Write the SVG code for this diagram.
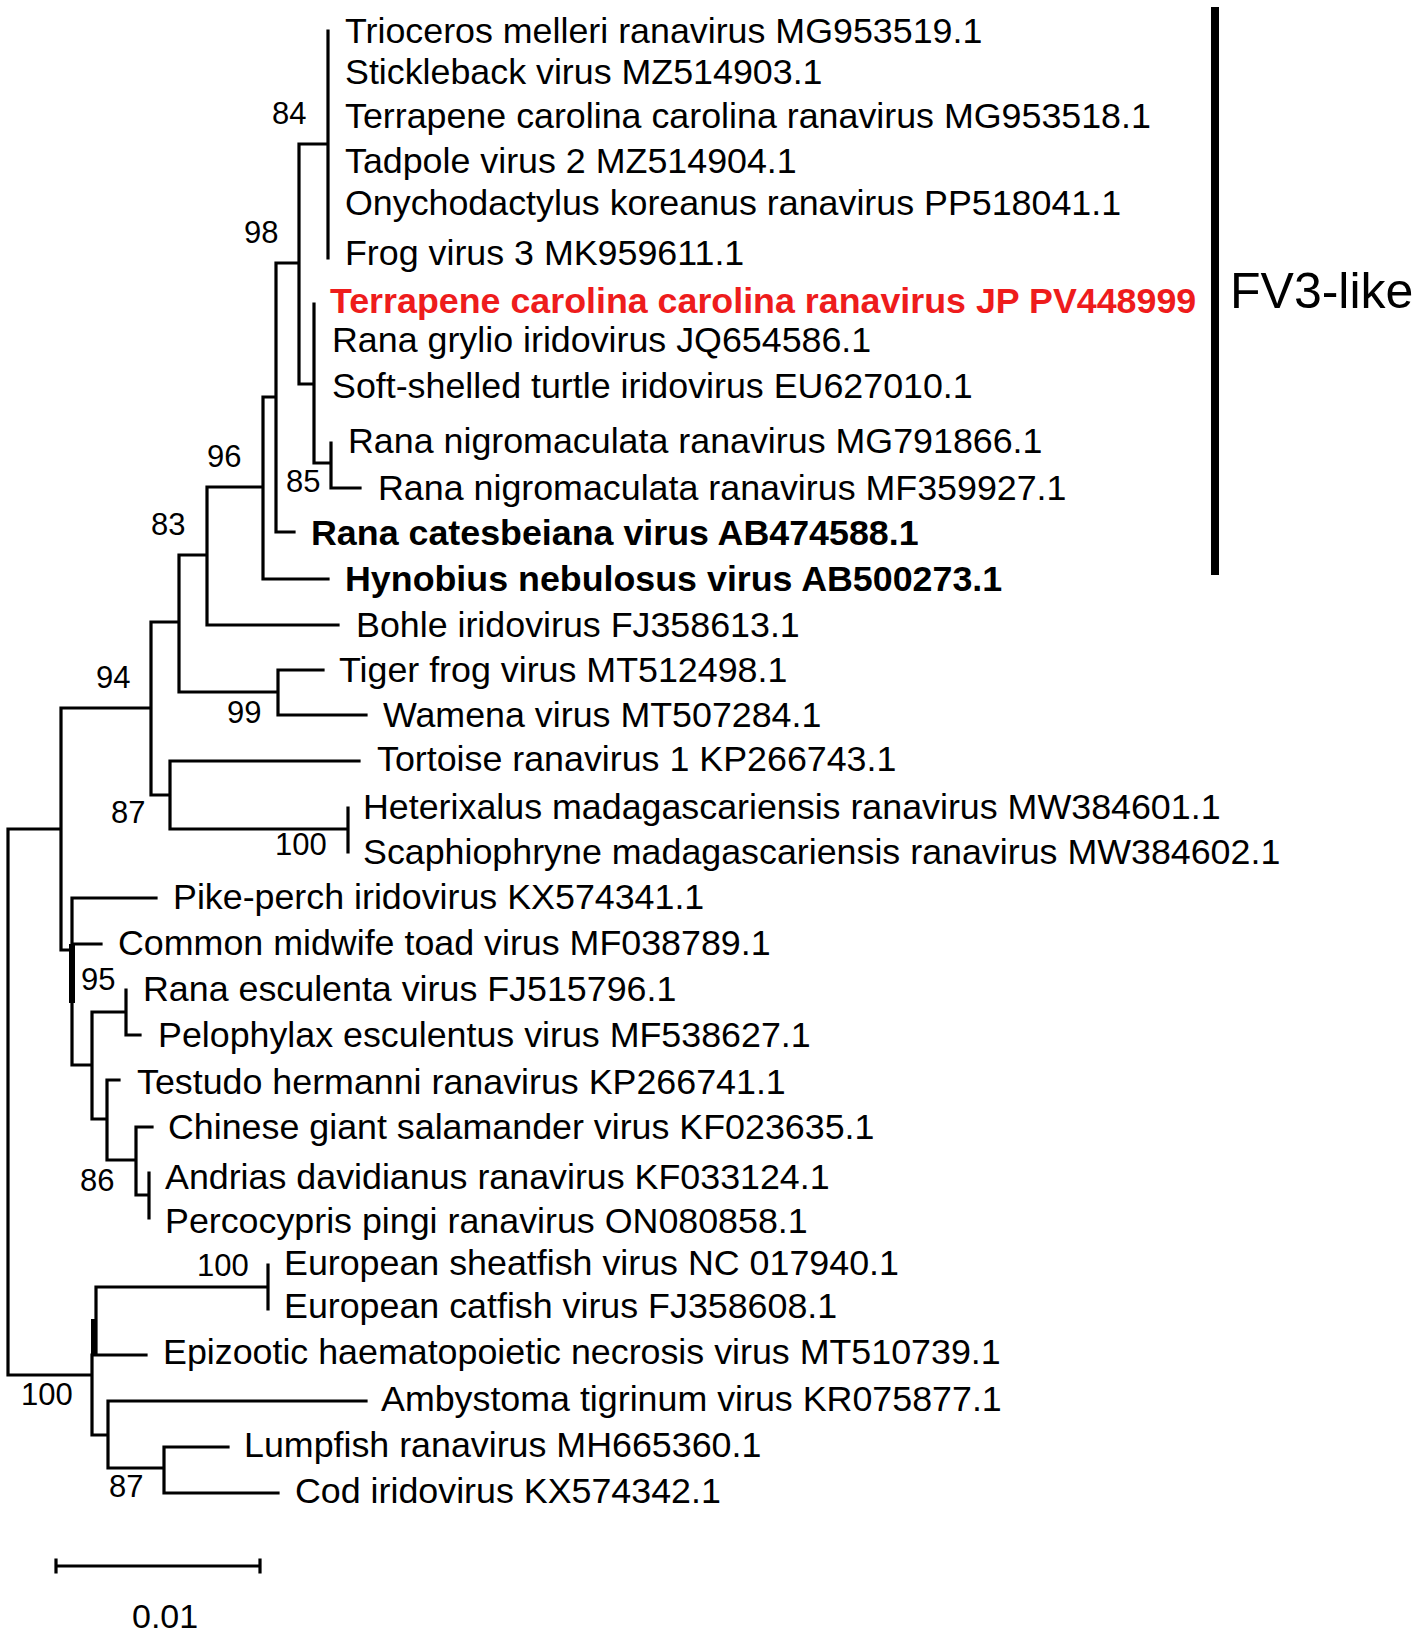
<svg xmlns="http://www.w3.org/2000/svg" width="1418" height="1636" viewBox="0 0 1418 1636">
<style>
.br{stroke:#000;stroke-width:3.2;fill:none;stroke-linecap:square}
.thick{stroke:#000;stroke-width:6;fill:none}
.lf{font-family:"Liberation Sans",Arial,sans-serif;font-size:35.8px;fill:#000}
.bd{font-weight:bold}
.red{fill:#ee1c1c;font-weight:bold}
.bs{font-family:"Liberation Sans",Arial,sans-serif;font-size:31px;fill:#000}
</style>
<rect width="1418" height="1636" fill="#fff"/>
<g id="connectors">
<path class="br" d="M328,31V258 M299,144H328 M299,144V384 M299,384H314 M314,304V463 M314,463H331 M331,443V488 M331,488H360 M276,263H299 M276,263V532 M276,532H294 M263,397H276 M263,397V579 M263,579H328 M207,487H263 M207,487V625 M207,625H338 M179,555H207 M179,555V692 M179,692H278 M278,670V715 M278,670H323 M278,715H366 M151,622H179 M151,622V795 M151,795H170 M170,761V829 M170,761H359 M170,829H348 M348,808V852 M61,708H151 M61,708V950 M61,950H72 M8,829H61 M8,829V1375 M8,1375H92 M72,898V1065 M72,898H156 M72,944H101 M72,1065H92 M92,1012V1119 M92,1012H126 M126,990V1035 M126,1035H140 M92,1119H107 M107,1080V1160 M107,1080H119 M107,1160H136 M136,1127V1195 M136,1127H152 M136,1195H149 M149,1173V1218 M96,1287H268 M268,1265V1309 M96,1287V1355 M92,1355H146 M92,1355V1435 M92,1435H108 M108,1401V1468 M108,1401H366 M108,1468H164 M164,1447V1493 M164,1447H228 M164,1493H278"/>
<path class="thick" d="M72,944V1003 M94,1319V1355"/>
</g>
<g id="bootstrap">
<text class="bs" x="272" y="124">84</text>
<text class="bs" x="244" y="243">98</text>
<text class="bs" x="286" y="492">85</text>
<text class="bs" x="207" y="467">96</text>
<text class="bs" x="151" y="535">83</text>
<text class="bs" x="96" y="688">94</text>
<text class="bs" x="227" y="723">99</text>
<text class="bs" x="111" y="823">87</text>
<text class="bs" x="275" y="855">100</text>
<text class="bs" x="81" y="990">95</text>
<text class="bs" x="80" y="1191">86</text>
<text class="bs" x="197" y="1276">100</text>
<text class="bs" x="21" y="1405">100</text>
<text class="bs" x="109" y="1497">87</text>
</g>
<g id="leaf-trioceros"><text class="lf" x="345" y="43">Trioceros melleri ranavirus MG953519.1</text></g>
<g id="leaf-stickleback"><text class="lf" x="345" y="84">Stickleback virus MZ514903.1</text></g>
<g id="leaf-terrapene-mg"><text class="lf" x="345" y="128">Terrapene carolina carolina ranavirus MG953518.1</text></g>
<g id="leaf-tadpole"><text class="lf" x="345" y="173">Tadpole virus 2 MZ514904.1</text></g>
<g id="leaf-onychodactylus"><text class="lf" x="345" y="215">Onychodactylus koreanus ranavirus PP518041.1</text></g>
<g id="leaf-fv3"><text class="lf" x="345" y="265">Frog virus 3 MK959611.1</text></g>
<g id="leaf-terrapene-jp"><text class="lf red" x="330" y="313">Terrapene carolina carolina ranavirus JP PV448999</text></g>
<g id="leaf-rana-grylio"><text class="lf" x="332" y="352">Rana grylio iridovirus JQ654586.1</text></g>
<g id="leaf-soft-shelled"><text class="lf" x="332" y="398">Soft-shelled turtle iridovirus EU627010.1</text></g>
<g id="leaf-nigro-mg"><text class="lf" x="348" y="453">Rana nigromaculata ranavirus MG791866.1</text></g>
<g id="leaf-nigro-mf"><text class="lf" x="378" y="500">Rana nigromaculata ranavirus MF359927.1</text></g>
<g id="leaf-catesbeiana"><text class="lf bd" x="311" y="545">Rana catesbeiana virus AB474588.1</text></g>
<g id="leaf-hynobius"><text class="lf bd" x="345" y="591">Hynobius nebulosus virus AB500273.1</text></g>
<g id="leaf-bohle"><text class="lf" x="356" y="637">Bohle iridovirus FJ358613.1</text></g>
<g id="leaf-tiger"><text class="lf" x="339" y="682">Tiger frog virus MT512498.1</text></g>
<g id="leaf-wamena"><text class="lf" x="383" y="727">Wamena virus MT507284.1</text></g>
<g id="leaf-tortoise"><text class="lf" x="377" y="771">Tortoise ranavirus 1 KP266743.1</text></g>
<g id="leaf-heterixalus"><text class="lf" x="363" y="819">Heterixalus madagascariensis ranavirus MW384601.1</text></g>
<g id="leaf-scaphiophryne"><text class="lf" x="363" y="864">Scaphiophryne madagascariensis ranavirus MW384602.1</text></g>
<g id="leaf-pike"><text class="lf" x="173" y="909">Pike-perch iridovirus KX574341.1</text></g>
<g id="leaf-midwife"><text class="lf" x="118" y="955">Common midwife toad virus MF038789.1</text></g>
<g id="leaf-esculenta"><text class="lf" x="143" y="1001">Rana esculenta virus FJ515796.1</text></g>
<g id="leaf-pelophylax"><text class="lf" x="158" y="1047">Pelophylax esculentus virus MF538627.1</text></g>
<g id="leaf-testudo"><text class="lf" x="137" y="1094">Testudo hermanni ranavirus KP266741.1</text></g>
<g id="leaf-chinese"><text class="lf" x="168" y="1139">Chinese giant salamander virus KF023635.1</text></g>
<g id="leaf-andrias"><text class="lf" x="165" y="1189">Andrias davidianus ranavirus KF033124.1</text></g>
<g id="leaf-percocypris"><text class="lf" x="165" y="1233">Percocypris pingi ranavirus ON080858.1</text></g>
<g id="leaf-sheatfish"><text class="lf" x="284" y="1275">European sheatfish virus NC 017940.1</text></g>
<g id="leaf-catfish"><text class="lf" x="284" y="1318">European catfish virus FJ358608.1</text></g>
<g id="leaf-ehnv"><text class="lf" x="163" y="1364">Epizootic haematopoietic necrosis virus MT510739.1</text></g>
<g id="leaf-ambystoma"><text class="lf" x="381" y="1411">Ambystoma tigrinum virus KR075877.1</text></g>
<g id="leaf-lumpfish"><text class="lf" x="244" y="1457">Lumpfish ranavirus MH665360.1</text></g>
<g id="leaf-cod"><text class="lf" x="295" y="1503">Cod iridovirus KX574342.1</text></g>
<g id="clade-fv3">
<rect x="1211" y="7" width="8" height="568" fill="#000"/>
<text x="1230" y="308" style="font-family:'Liberation Sans',Arial,sans-serif;font-size:50px;fill:#000">FV3-like</text>
</g>
<g id="scale-bar">
<path class="br" d="M56,1566H260 M56,1560V1572 M260,1560V1572"/>
<text x="132" y="1628" style="font-family:'Liberation Sans',Arial,sans-serif;font-size:34px;fill:#000">0.01</text>
</g>
</svg>
